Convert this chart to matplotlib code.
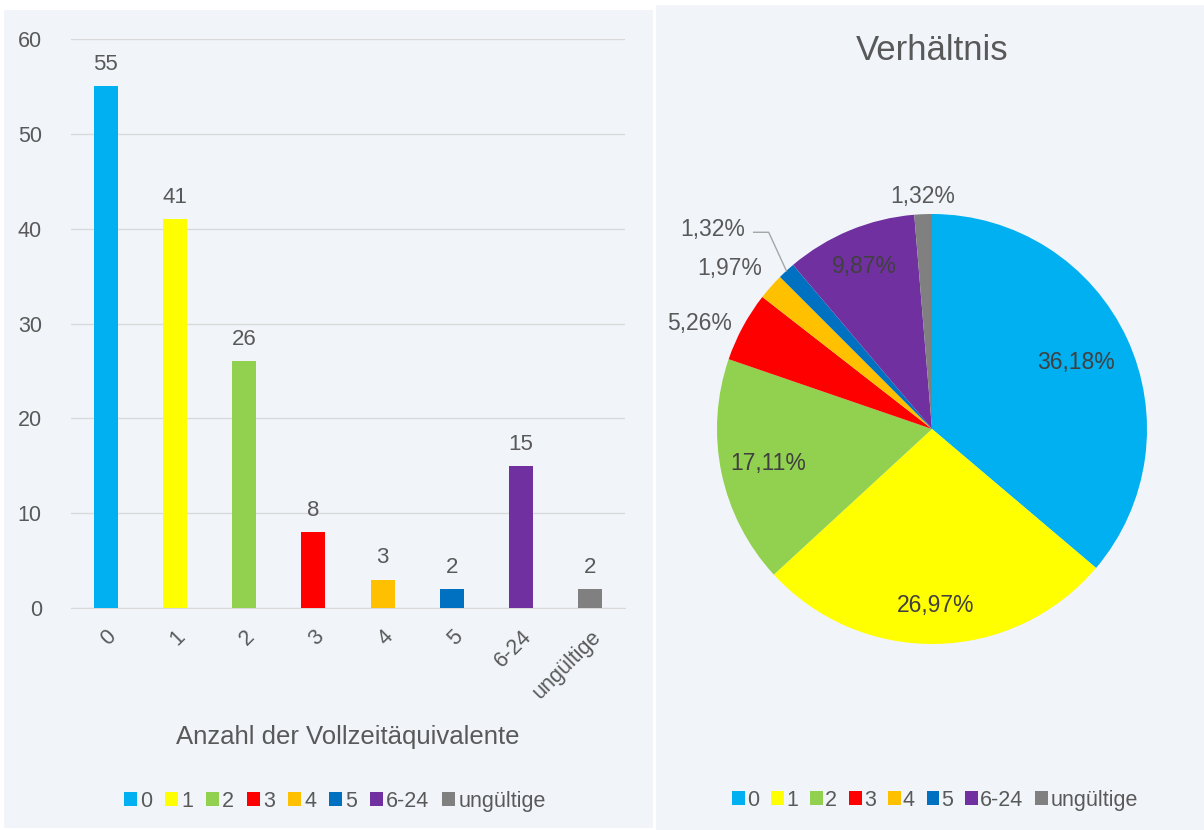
import numpy as np
import matplotlib.pyplot as plt
from matplotlib.patches import Rectangle, Patch

# Daten
kategorien = ['0', '1', '2', '3', '4', '5', '6-24', 'ungültige']
anzahl = [55, 41, 26, 8, 3, 2, 15, 2]
farben = ['#00B0F0', '#FFFF00', '#92D050', '#FF0000', '#FFC000', '#0070C0', '#7030A0', '#808080']
# Abstand der Prozent-Beschriftung vom Mittelpunkt (1 = Rand)
label_r = [0.74, 0.82, 0.78, 1.19, 1.20, 1.38, 0.82, 1.08]
label_dw = [0, 0, 0, 4, 3, 5, 0, 0]   # Winkelversatz in Grad

plt.rcParams['font.family'] = ['Liberation Sans', 'DejaVu Sans']
txt = '#595959'
bg = '#F1F5FA'

fig = plt.figure(figsize=(12.04, 8.3), dpi=100)
fig.patch.set_facecolor('white')
fig.patches.append(Rectangle((4/1204, 2/830), 649/1204, 818/830, transform=fig.transFigure,
                             facecolor=bg, edgecolor='none', zorder=-5))
fig.patches.append(Rectangle((656/1204, 0), 548/1204, 825/830, transform=fig.transFigure,
                             facecolor=bg, edgecolor='none', zorder=-5))

# Balkendiagramm
ax = fig.add_axes([71/1204, 1-608/830, 554/1204, 569/830])
ax.set_facecolor('none')
x = np.arange(len(kategorien))
bars = ax.bar(x, anzahl, width=0.35, color=farben, zorder=3)
for b, v in zip(bars, anzahl):
    ax.annotate(str(v), (b.get_x() + b.get_width()/2, v), xytext=(0, 8), textcoords='offset points',
                ha='center', va='bottom', fontsize=16, color=txt)
ax.set_xlim(-0.5, len(kategorien) - 0.5)
ax.set_ylim(0, 60)
ax.set_yticks(range(0, 61, 10))
ax.yaxis.grid(True, color='#D9D9D9', linewidth=1)
ax.set_axisbelow(True)
for s in ['top', 'right', 'left']:
    ax.spines[s].set_visible(False)
ax.spines['bottom'].set_color('#D9D9D9')
ax.tick_params(axis='both', length=0, labelsize=15.5, labelcolor=txt)
ax.tick_params(axis='y', pad=21)
ax.set_xticks(x)
ax.set_xticklabels(kategorien, rotation=45, ha='right', va='top', rotation_mode='anchor')
ax.tick_params(axis='x', pad=13)
ax.set_xlabel('Anzahl der Vollzeitäquivalente', fontsize=18.5, color=txt, labelpad=16)
handles = [Patch(facecolor=c, edgecolor='none') for c in farben]
fig.legend(handles, kategorien, loc='center', bbox_to_anchor=(335/1204, 1-801/830), ncol=8,
           frameon=False, fontsize=15.5, labelcolor=txt, handlelength=0.6, handleheight=0.6,
           handletextpad=0.15, columnspacing=0.6)

# Kreisdiagramm
ax2 = fig.add_axes([(932-215)/1204, 1-(429+215)/830, 430/1204, 430/830])
ax2.set_facecolor('none')
wedges, _ = ax2.pie(anzahl, colors=farben, startangle=90, counterclock=False, radius=1)
ax2.set_xlim(-1, 1)
ax2.set_ylim(-1, 1)
ax2.axis('off')
gesamt = sum(anzahl)
for w, v, r, dw in zip(wedges, anzahl, label_r, label_dw):
    mid = np.deg2rad((w.theta1 + w.theta2) / 2 + dw)
    s = f'{100*v/gesamt:.2f}%'.replace('.', ',')
    ax2.text(r*np.cos(mid), r*np.sin(mid), s, ha='center', va='center', fontsize=16.5,
             color='#404040' if r < 1 else txt, clip_on=False)
# Führungslinie für kleines Segment "5"
w5 = wedges[5]
m5 = np.deg2rad((w5.theta1 + w5.theta2) / 2)
p0 = (np.cos(m5), np.sin(m5))
m5l = m5 + np.deg2rad(label_dw[5])
lx, ly = label_r[5]*np.cos(m5l), label_r[5]*np.sin(m5l)
ax2.plot([lx + 0.19, lx + 0.26, p0[0]], [ly - 0.015, ly - 0.015, p0[1]], color='#A6A6A6',
         linewidth=1, clip_on=False)

fig.text(932/1204, 1-50/830, 'Verhältnis', ha='center', va='center', fontsize=25, color=txt)
fig.legend(handles, kategorien, loc='center', bbox_to_anchor=(935/1204, 1-800/830), ncol=8,
           frameon=False, fontsize=15.5, labelcolor=txt, handlelength=0.6, handleheight=0.6,
           handletextpad=0.1, columnspacing=0.55)

fig.savefig('out.png', dpi=100)
